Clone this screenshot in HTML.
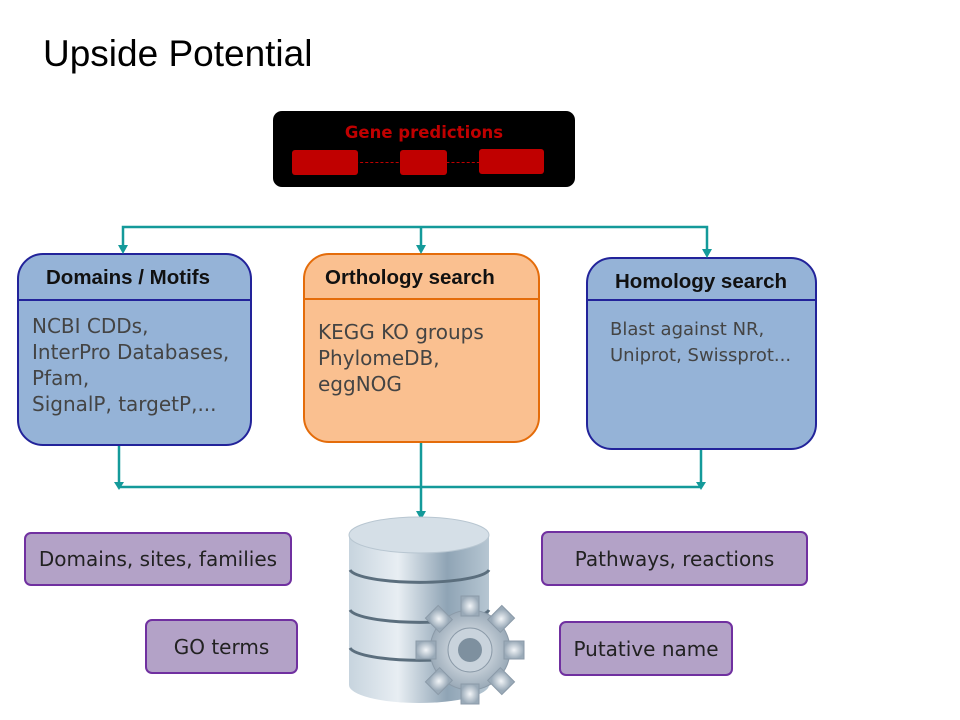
<!DOCTYPE html>
<html><head><meta charset="utf-8"><style>
body{margin:0;width:960px;height:720px;background:#fff;position:relative;overflow:hidden;font-family:"Liberation Sans",sans-serif}
.t{position:absolute;left:43px;top:33px;font-size:37px;color:#000}
.box{position:absolute;border:2.5px solid;border-radius:26px;box-sizing:border-box;overflow:hidden}
.box .h{font-weight:bold;font-size:20.5px;color:#111;border-bottom:2.5px solid;box-sizing:border-box}
.box .b{font-family:"DejaVu Sans",sans-serif;font-size:20px;color:#444;line-height:26px;padding:12px 0 0 13px;white-space:nowrap}
.p{position:absolute;background:#b3a2c7;border:2.5px solid #7030a0;border-radius:7px;box-sizing:border-box;font-family:"DejaVu Sans",sans-serif;font-size:20px;color:#222;display:flex;align-items:center;justify-content:center}
</style></head><body>
<div class="t">Upside Potential</div>
<div style="position:absolute;left:273px;top:111px;width:302px;height:76px;background:#000;border-radius:9px"></div>
<div style="position:absolute;left:273px;top:123px;width:302px;text-align:center;color:#c00000;font-weight:bold;font-size:16.5px;font-family:'DejaVu Sans',sans-serif">Gene predictions</div>
<div style="position:absolute;left:350px;top:162px;width:140px;border-top:1px dashed #c00000"></div>
<div style="position:absolute;left:292px;top:150px;width:66px;height:25px;background:#c00000;border-radius:3px"></div>
<div style="position:absolute;left:400px;top:150px;width:47px;height:25px;background:#c00000;border-radius:3px"></div>
<div style="position:absolute;left:479px;top:149px;width:65px;height:25px;background:#c00000;border-radius:3px"></div>

<div class="box" style="left:17px;top:253px;width:235px;height:193px;background:#95b3d7;border-color:#22239a">
<div class="h" style="height:46px;border-color:#22239a;padding:11px 0 0 27px">Domains / Motifs</div>
<div class="b">NCBI CDDs,<br>InterPro Databases,<br>Pfam,<br>SignalP, targetP,...</div></div>
<div class="box" style="left:303px;top:253px;width:237px;height:190px;background:#fac090;border-color:#e46c0a">
<div class="h" style="height:45px;border-color:#e46c0a;padding:11px 0 0 20px">Orthology search</div>
<div class="b" style="padding-top:19px">KEGG KO groups<br>PhylomeDB,<br>eggNOG</div></div>
<div class="box" style="left:586px;top:257px;width:231px;height:193px;background:#95b3d7;border-color:#22239a">
<div class="h" style="height:42px;border-color:#22239a;padding:11px 0 0 27px">Homology search</div>
<div class="b" style="padding-top:16px;padding-left:22px;font-size:18px">Blast against NR,<br>Uniprot, Swissprot...</div></div>

<svg style="position:absolute;left:0;top:0" width="960" height="720">
<g stroke="#149a9a" stroke-width="2.5" fill="none">
<polyline points="123,250 123,227 707,227 707,254"/>
<line x1="421" y1="227" x2="421" y2="250"/>
<polyline points="119,446 119,487 701,487"/>
<line x1="701" y1="450" x2="701" y2="487"/>
<line x1="421" y1="443" x2="421" y2="516"/>
</g>
<g fill="#149a9a">
<path d="M118,245 h10 l-5,9z"/><path d="M416,245 h10 l-5,9z"/><path d="M702,249 h10 l-5,9z"/>
<path d="M114,482 h10 l-5,8z"/><path d="M696,482 h10 l-5,8z"/><path d="M416,511 h10 l-5,9z"/>
</g>
<defs><linearGradient id="g" x1="0" x2="1"><stop offset="0" stop-color="#c7d4de"/><stop offset=".35" stop-color="#e8eef3"/><stop offset=".7" stop-color="#8fa4b5"/><stop offset="1" stop-color="#b6c6d2"/></linearGradient>
<radialGradient id="gr"><stop offset="0" stop-color="#f2f5f8"/><stop offset="1" stop-color="#9aaab8"/></radialGradient></defs>
<path d="M349,535 v150 a70,18 0 0 0 140,0 v-150z" fill="url(#g)"/>
<ellipse cx="419" cy="535" rx="70" ry="18" fill="#d5dfe7" stroke="#b8c6d1"/>
<g stroke="#5b6e7d" stroke-width="3" fill="none"><path d="M350,570 a70,14 0 0 0 139,0"/><path d="M350,610 a70,14 0 0 0 139,0"/><path d="M350,648 a70,14 0 0 0 139,0"/></g>
<g transform="translate(470,650)">
<g fill="url(#gr)" stroke="#8b9aa8">
<circle r="40"/>
<g><rect x="-9" y="-54" width="18" height="20"/><rect x="-9" y="-54" width="18" height="20" transform="rotate(45)"/><rect x="-9" y="-54" width="18" height="20" transform="rotate(90)"/><rect x="-9" y="-54" width="18" height="20" transform="rotate(135)"/><rect x="-9" y="-54" width="18" height="20" transform="rotate(180)"/><rect x="-9" y="-54" width="18" height="20" transform="rotate(225)"/><rect x="-9" y="-54" width="18" height="20" transform="rotate(270)"/><rect x="-9" y="-54" width="18" height="20" transform="rotate(315)"/></g>
</g>
<circle r="22" fill="#c9d3dc" stroke="#8b9aa8"/><circle r="12" fill="#7e909f"/>
</g>
</svg>

<div class="p" style="left:24px;top:532px;width:268px;height:54px">Domains, sites, families</div>
<div class="p" style="left:145px;top:619px;width:153px;height:55px">GO terms</div>
<div class="p" style="left:541px;top:531px;width:267px;height:55px">Pathways, reactions</div>
<div class="p" style="left:559px;top:621px;width:174px;height:55px">Putative name</div>
</body></html>
